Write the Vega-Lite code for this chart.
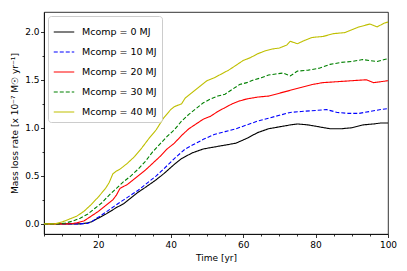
{
  "$schema": "https://vega.github.io/schema/vega-lite/v6.json",
  "width": 344,
  "height": 222,
  "autosize": "none",
  "padding": {"left": 44, "top": 12, "right": 19, "bottom": 37},
  "background": "white",
  "config": {
    "font": "DejaVu Sans",
    "view": {"stroke": "#000000", "strokeWidth": 0.8},
    "axis": {
      "domainColor": "#000000", "domainWidth": 0.8,
      "tickColor": "#000000", "tickWidth": 0.8,
      "labelFont": "DejaVu Sans", "labelFontSize": 9, "labelColor": "#000000",
      "titleFont": "DejaVu Sans", "titleFontSize": 9, "titleFontWeight": "normal", "titleColor": "#000000",
      "grid": false
    }
  },
  "datasets": {
    "series": [
      {"t":5,"v":0,"s":"Mcomp = 0 MJ"},{"t":10,"v":0,"s":"Mcomp = 0 MJ"},{"t":15,"v":0,"s":"Mcomp = 0 MJ"},{"t":17,"v":0.01,"s":"Mcomp = 0 MJ"},{"t":18,"v":0.02,"s":"Mcomp = 0 MJ"},{"t":20,"v":0.06,"s":"Mcomp = 0 MJ"},{"t":22,"v":0.1,"s":"Mcomp = 0 MJ"},{"t":25,"v":0.17,"s":"Mcomp = 0 MJ"},{"t":27,"v":0.21,"s":"Mcomp = 0 MJ"},{"t":29,"v":0.27,"s":"Mcomp = 0 MJ"},{"t":31,"v":0.33,"s":"Mcomp = 0 MJ"},{"t":33,"v":0.38,"s":"Mcomp = 0 MJ"},{"t":36,"v":0.46,"s":"Mcomp = 0 MJ"},{"t":38,"v":0.52,"s":"Mcomp = 0 MJ"},{"t":41,"v":0.62,"s":"Mcomp = 0 MJ"},{"t":43,"v":0.68,"s":"Mcomp = 0 MJ"},{"t":46,"v":0.74,"s":"Mcomp = 0 MJ"},{"t":49,"v":0.78,"s":"Mcomp = 0 MJ"},{"t":52,"v":0.8,"s":"Mcomp = 0 MJ"},{"t":55,"v":0.82,"s":"Mcomp = 0 MJ"},{"t":58,"v":0.84,"s":"Mcomp = 0 MJ"},{"t":61,"v":0.89,"s":"Mcomp = 0 MJ"},{"t":64,"v":0.95,"s":"Mcomp = 0 MJ"},{"t":67,"v":0.99,"s":"Mcomp = 0 MJ"},{"t":70,"v":1.01,"s":"Mcomp = 0 MJ"},{"t":73,"v":1.03,"s":"Mcomp = 0 MJ"},{"t":75,"v":1.04,"s":"Mcomp = 0 MJ"},{"t":78,"v":1.03,"s":"Mcomp = 0 MJ"},{"t":81,"v":1.01,"s":"Mcomp = 0 MJ"},{"t":84,"v":0.99,"s":"Mcomp = 0 MJ"},{"t":87,"v":0.99,"s":"Mcomp = 0 MJ"},{"t":90,"v":1.0,"s":"Mcomp = 0 MJ"},{"t":93,"v":1.03,"s":"Mcomp = 0 MJ"},{"t":96,"v":1.04,"s":"Mcomp = 0 MJ"},{"t":98,"v":1.05,"s":"Mcomp = 0 MJ"},{"t":100,"v":1.05,"s":"Mcomp = 0 MJ"},

      {"t":5,"v":0,"s":"Mcomp = 10 MJ"},{"t":15,"v":0,"s":"Mcomp = 10 MJ"},{"t":17,"v":0.005,"s":"Mcomp = 10 MJ"},{"t":18,"v":0.02,"s":"Mcomp = 10 MJ"},{"t":20,"v":0.07,"s":"Mcomp = 10 MJ"},{"t":22,"v":0.12,"s":"Mcomp = 10 MJ"},{"t":25,"v":0.2,"s":"Mcomp = 10 MJ"},{"t":27,"v":0.25,"s":"Mcomp = 10 MJ"},{"t":29,"v":0.3,"s":"Mcomp = 10 MJ"},{"t":31,"v":0.35,"s":"Mcomp = 10 MJ"},{"t":34,"v":0.44,"s":"Mcomp = 10 MJ"},{"t":36,"v":0.5,"s":"Mcomp = 10 MJ"},{"t":38,"v":0.57,"s":"Mcomp = 10 MJ"},{"t":41,"v":0.68,"s":"Mcomp = 10 MJ"},{"t":44,"v":0.78,"s":"Mcomp = 10 MJ"},{"t":46,"v":0.82,"s":"Mcomp = 10 MJ"},{"t":49,"v":0.88,"s":"Mcomp = 10 MJ"},{"t":52,"v":0.93,"s":"Mcomp = 10 MJ"},{"t":55,"v":0.96,"s":"Mcomp = 10 MJ"},{"t":58,"v":0.99,"s":"Mcomp = 10 MJ"},{"t":61,"v":1.03,"s":"Mcomp = 10 MJ"},{"t":64,"v":1.07,"s":"Mcomp = 10 MJ"},{"t":67,"v":1.1,"s":"Mcomp = 10 MJ"},{"t":70,"v":1.13,"s":"Mcomp = 10 MJ"},{"t":73,"v":1.16,"s":"Mcomp = 10 MJ"},{"t":76,"v":1.17,"s":"Mcomp = 10 MJ"},{"t":80,"v":1.18,"s":"Mcomp = 10 MJ"},{"t":83,"v":1.19,"s":"Mcomp = 10 MJ"},{"t":86,"v":1.16,"s":"Mcomp = 10 MJ"},{"t":89,"v":1.15,"s":"Mcomp = 10 MJ"},{"t":92,"v":1.15,"s":"Mcomp = 10 MJ"},{"t":95,"v":1.17,"s":"Mcomp = 10 MJ"},{"t":98,"v":1.19,"s":"Mcomp = 10 MJ"},{"t":100,"v":1.2,"s":"Mcomp = 10 MJ"},

      {"t":5,"v":0,"s":"Mcomp = 20 MJ"},{"t":12,"v":0,"s":"Mcomp = 20 MJ"},{"t":14,"v":0.01,"s":"Mcomp = 20 MJ"},{"t":16,"v":0.03,"s":"Mcomp = 20 MJ"},{"t":18,"v":0.08,"s":"Mcomp = 20 MJ"},{"t":20,"v":0.13,"s":"Mcomp = 20 MJ"},{"t":22,"v":0.19,"s":"Mcomp = 20 MJ"},{"t":24,"v":0.25,"s":"Mcomp = 20 MJ"},{"t":25,"v":0.3,"s":"Mcomp = 20 MJ"},{"t":26,"v":0.37,"s":"Mcomp = 20 MJ"},{"t":27,"v":0.39,"s":"Mcomp = 20 MJ"},{"t":28,"v":0.41,"s":"Mcomp = 20 MJ"},{"t":29,"v":0.44,"s":"Mcomp = 20 MJ"},{"t":31,"v":0.5,"s":"Mcomp = 20 MJ"},{"t":33,"v":0.56,"s":"Mcomp = 20 MJ"},{"t":35,"v":0.63,"s":"Mcomp = 20 MJ"},{"t":37,"v":0.7,"s":"Mcomp = 20 MJ"},{"t":39,"v":0.78,"s":"Mcomp = 20 MJ"},{"t":41,"v":0.84,"s":"Mcomp = 20 MJ"},{"t":43,"v":0.92,"s":"Mcomp = 20 MJ"},{"t":45,"v":0.99,"s":"Mcomp = 20 MJ"},{"t":47,"v":1.04,"s":"Mcomp = 20 MJ"},{"t":49,"v":1.09,"s":"Mcomp = 20 MJ"},{"t":51,"v":1.12,"s":"Mcomp = 20 MJ"},{"t":53,"v":1.17,"s":"Mcomp = 20 MJ"},{"t":55,"v":1.21,"s":"Mcomp = 20 MJ"},{"t":57,"v":1.25,"s":"Mcomp = 20 MJ"},{"t":59,"v":1.28,"s":"Mcomp = 20 MJ"},{"t":61,"v":1.3,"s":"Mcomp = 20 MJ"},{"t":64,"v":1.32,"s":"Mcomp = 20 MJ"},{"t":67,"v":1.33,"s":"Mcomp = 20 MJ"},{"t":70,"v":1.36,"s":"Mcomp = 20 MJ"},{"t":73,"v":1.39,"s":"Mcomp = 20 MJ"},{"t":76,"v":1.42,"s":"Mcomp = 20 MJ"},{"t":79,"v":1.45,"s":"Mcomp = 20 MJ"},{"t":82,"v":1.47,"s":"Mcomp = 20 MJ"},{"t":86,"v":1.48,"s":"Mcomp = 20 MJ"},{"t":90,"v":1.49,"s":"Mcomp = 20 MJ"},{"t":94,"v":1.5,"s":"Mcomp = 20 MJ"},{"t":96,"v":1.47,"s":"Mcomp = 20 MJ"},{"t":98,"v":1.48,"s":"Mcomp = 20 MJ"},{"t":100,"v":1.49,"s":"Mcomp = 20 MJ"},

      {"t":5,"v":0,"s":"Mcomp = 30 MJ"},{"t":9,"v":0,"s":"Mcomp = 30 MJ"},{"t":11,"v":0.01,"s":"Mcomp = 30 MJ"},{"t":13,"v":0.03,"s":"Mcomp = 30 MJ"},{"t":15,"v":0.06,"s":"Mcomp = 30 MJ"},{"t":17,"v":0.1,"s":"Mcomp = 30 MJ"},{"t":19,"v":0.16,"s":"Mcomp = 30 MJ"},{"t":21,"v":0.22,"s":"Mcomp = 30 MJ"},{"t":23,"v":0.3,"s":"Mcomp = 30 MJ"},{"t":25,"v":0.37,"s":"Mcomp = 30 MJ"},{"t":27,"v":0.44,"s":"Mcomp = 30 MJ"},{"t":29,"v":0.5,"s":"Mcomp = 30 MJ"},{"t":31,"v":0.57,"s":"Mcomp = 30 MJ"},{"t":33,"v":0.65,"s":"Mcomp = 30 MJ"},{"t":35,"v":0.75,"s":"Mcomp = 30 MJ"},{"t":37,"v":0.83,"s":"Mcomp = 30 MJ"},{"t":39,"v":0.91,"s":"Mcomp = 30 MJ"},{"t":41,"v":0.98,"s":"Mcomp = 30 MJ"},{"t":43,"v":1.07,"s":"Mcomp = 30 MJ"},{"t":45,"v":1.14,"s":"Mcomp = 30 MJ"},{"t":47,"v":1.2,"s":"Mcomp = 30 MJ"},{"t":49,"v":1.26,"s":"Mcomp = 30 MJ"},{"t":51,"v":1.3,"s":"Mcomp = 30 MJ"},{"t":53,"v":1.33,"s":"Mcomp = 30 MJ"},{"t":55,"v":1.35,"s":"Mcomp = 30 MJ"},{"t":57,"v":1.4,"s":"Mcomp = 30 MJ"},{"t":59,"v":1.45,"s":"Mcomp = 30 MJ"},{"t":61,"v":1.47,"s":"Mcomp = 30 MJ"},{"t":63,"v":1.5,"s":"Mcomp = 30 MJ"},{"t":65,"v":1.52,"s":"Mcomp = 30 MJ"},{"t":67,"v":1.55,"s":"Mcomp = 30 MJ"},{"t":69,"v":1.56,"s":"Mcomp = 30 MJ"},{"t":71,"v":1.57,"s":"Mcomp = 30 MJ"},{"t":73,"v":1.54,"s":"Mcomp = 30 MJ"},{"t":75,"v":1.59,"s":"Mcomp = 30 MJ"},{"t":78,"v":1.6,"s":"Mcomp = 30 MJ"},{"t":81,"v":1.62,"s":"Mcomp = 30 MJ"},{"t":84,"v":1.66,"s":"Mcomp = 30 MJ"},{"t":87,"v":1.68,"s":"Mcomp = 30 MJ"},{"t":90,"v":1.69,"s":"Mcomp = 30 MJ"},{"t":93,"v":1.71,"s":"Mcomp = 30 MJ"},{"t":95,"v":1.7,"s":"Mcomp = 30 MJ"},{"t":97,"v":1.69,"s":"Mcomp = 30 MJ"},{"t":99,"v":1.71,"s":"Mcomp = 30 MJ"},{"t":100,"v":1.72,"s":"Mcomp = 30 MJ"},

      {"t":5,"v":0,"s":"Mcomp = 40 MJ"},{"t":8,"v":0,"s":"Mcomp = 40 MJ"},{"t":10,"v":0.02,"s":"Mcomp = 40 MJ"},{"t":12,"v":0.05,"s":"Mcomp = 40 MJ"},{"t":14,"v":0.08,"s":"Mcomp = 40 MJ"},{"t":16,"v":0.13,"s":"Mcomp = 40 MJ"},{"t":18,"v":0.2,"s":"Mcomp = 40 MJ"},{"t":20,"v":0.28,"s":"Mcomp = 40 MJ"},{"t":22,"v":0.37,"s":"Mcomp = 40 MJ"},{"t":23,"v":0.43,"s":"Mcomp = 40 MJ"},{"t":24,"v":0.52,"s":"Mcomp = 40 MJ"},{"t":25,"v":0.55,"s":"Mcomp = 40 MJ"},{"t":26,"v":0.57,"s":"Mcomp = 40 MJ"},{"t":28,"v":0.63,"s":"Mcomp = 40 MJ"},{"t":30,"v":0.7,"s":"Mcomp = 40 MJ"},{"t":32,"v":0.79,"s":"Mcomp = 40 MJ"},{"t":34,"v":0.89,"s":"Mcomp = 40 MJ"},{"t":36,"v":0.98,"s":"Mcomp = 40 MJ"},{"t":37,"v":1.04,"s":"Mcomp = 40 MJ"},{"t":38,"v":1.1,"s":"Mcomp = 40 MJ"},{"t":40,"v":1.19,"s":"Mcomp = 40 MJ"},{"t":41,"v":1.22,"s":"Mcomp = 40 MJ"},{"t":43,"v":1.25,"s":"Mcomp = 40 MJ"},{"t":44,"v":1.31,"s":"Mcomp = 40 MJ"},{"t":46,"v":1.37,"s":"Mcomp = 40 MJ"},{"t":48,"v":1.43,"s":"Mcomp = 40 MJ"},{"t":50,"v":1.49,"s":"Mcomp = 40 MJ"},{"t":52,"v":1.52,"s":"Mcomp = 40 MJ"},{"t":54,"v":1.56,"s":"Mcomp = 40 MJ"},{"t":56,"v":1.6,"s":"Mcomp = 40 MJ"},{"t":58,"v":1.65,"s":"Mcomp = 40 MJ"},{"t":60,"v":1.7,"s":"Mcomp = 40 MJ"},{"t":62,"v":1.73,"s":"Mcomp = 40 MJ"},{"t":64,"v":1.77,"s":"Mcomp = 40 MJ"},{"t":66,"v":1.8,"s":"Mcomp = 40 MJ"},{"t":68,"v":1.82,"s":"Mcomp = 40 MJ"},{"t":70,"v":1.83,"s":"Mcomp = 40 MJ"},{"t":72,"v":1.86,"s":"Mcomp = 40 MJ"},{"t":73,"v":1.9,"s":"Mcomp = 40 MJ"},{"t":75,"v":1.875,"s":"Mcomp = 40 MJ"},{"t":77,"v":1.91,"s":"Mcomp = 40 MJ"},{"t":79,"v":1.94,"s":"Mcomp = 40 MJ"},{"t":82,"v":1.95,"s":"Mcomp = 40 MJ"},{"t":85,"v":1.98,"s":"Mcomp = 40 MJ"},{"t":88,"v":1.99,"s":"Mcomp = 40 MJ"},{"t":90,"v":2.02,"s":"Mcomp = 40 MJ"},{"t":92,"v":2.05,"s":"Mcomp = 40 MJ"},{"t":95,"v":2.08,"s":"Mcomp = 40 MJ"},{"t":97,"v":2.05,"s":"Mcomp = 40 MJ"},{"t":99,"v":2.09,"s":"Mcomp = 40 MJ"},{"t":100,"v":2.1,"s":"Mcomp = 40 MJ"}
    ]
  },
  "data": {"name": "series"},
  "mark": {"type": "line", "strokeWidth": 1.1, "clip": true},
  "encoding": {
    "x": {
      "field": "t", "type": "quantitative",
      "scale": {"domain": [5, 100], "nice": false, "zero": false},
      "axis": {
        "title": "Time [yr]",
        "titleFontWeight": "normal",
        "values": [5,10,15,20,25,30,35,40,45,50,55,60,65,70,75,80,85,90,95,100],
        "labelExpr": "datum.value % 20 === 0 ? datum.label : ''",
        "tickSize": {"condition": {"test": "datum.value % 20 === 0", "value": 3.5}, "value": 2},
        "labelPadding": 2.5,
        "titlePadding": 4,
        "labelFlush": false
      }
    },
    "y": {
      "field": "v", "type": "quantitative",
      "scale": {"domain": [-0.105, 2.205], "nice": false, "zero": false},
      "axis": {
        "title": "Mass loss rate [x 10⁻⁷ M☉ yr⁻¹]",
        "titleFontWeight": "normal",
        "values": [0,0.25,0.5,0.75,1,1.25,1.5,1.75,2],
        "format": ".1f",
        "labelExpr": "datum.value * 2 % 1 === 0 ? datum.label : ''",
        "tickSize": {"condition": {"test": "datum.value * 2 % 1 === 0", "value": 3.5}, "value": 2},
        "labelPadding": 1.5,
        "titlePadding": 5,
        "labelFlush": false
      }
    },
    "color": {
      "field": "s", "type": "nominal",
      "scale": {
        "domain": ["Mcomp = 0 MJ","Mcomp = 10 MJ","Mcomp = 20 MJ","Mcomp = 30 MJ","Mcomp = 40 MJ"],
        "range": ["#000000","#0000ff","#ff0000","#008000","#bfbf00"]
      },
      "legend": {
        "title": null, "orient": "top-left", "offset": 4,
        "strokeColor": "#cccccc", "fillColor": "rgba(255,255,255,0.8)", "cornerRadius": 3,
        "padding": 5, "symbolType": "stroke", "symbolSize": 420, "symbolStrokeWidth": 1.1,
        "labelFont": "DejaVu Sans", "labelFontSize": 9.5, "labelColor": "#000000", "rowPadding": 4, "labelOffset": 7
      }
    },
    "strokeDash": {
      "field": "s", "type": "nominal",
      "scale": {
        "domain": ["Mcomp = 0 MJ","Mcomp = 10 MJ","Mcomp = 20 MJ","Mcomp = 30 MJ","Mcomp = 40 MJ"],
        "range": [[1,0],[4,2],[1,0],[4,2],[1,0]]
      },
      "legend": {
        "title": null, "orient": "top-left", "offset": 4,
        "strokeColor": "#cccccc", "fillColor": "rgba(255,255,255,0.8)", "cornerRadius": 3,
        "padding": 5, "symbolType": "stroke", "symbolSize": 420, "symbolStrokeWidth": 1.1,
        "labelFont": "DejaVu Sans", "labelFontSize": 9.5, "labelColor": "#000000", "rowPadding": 4, "labelOffset": 7
      }
    }
  }
}
